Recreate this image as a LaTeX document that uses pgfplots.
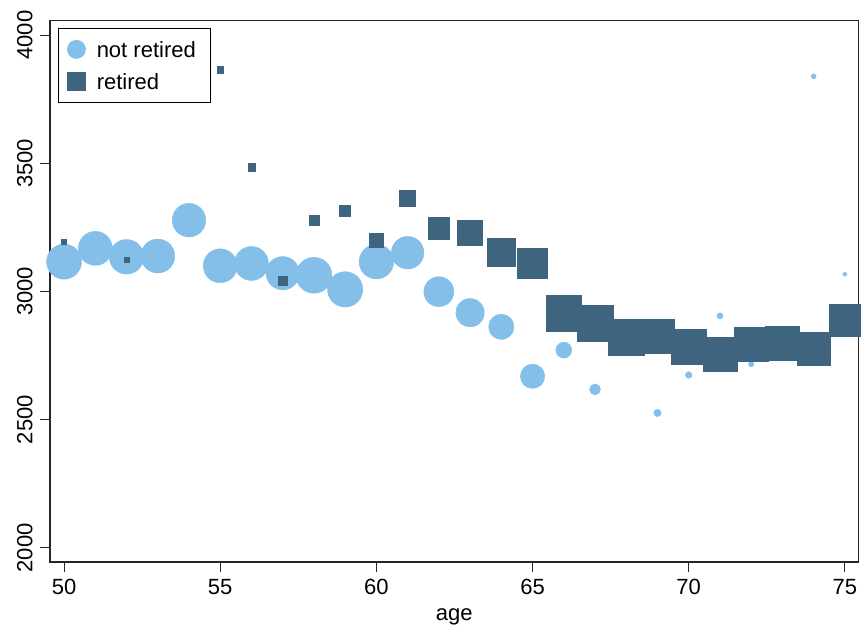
\documentclass[border=0pt]{standalone}
\usepackage{fontspec}
\setmainfont{Liberation Sans}
\usepackage{pgfplots}
\usepackage{pgfplotstable}
\pgfplotsset{compat=1.18}
\definecolor{nr}{HTML}{83BFE9}
\definecolor{ret}{HTML}{3E6480}
\pgfplotstableread{
x y r
50 3116 17.5
51 3168 17
52 3135 17.3
53 3138 17
54 3278 16.8
55 3100 17
56 3109 17
57 3071 16.7
58 3063 18
59 3008 17.7
60 3116 17.3
61 3151 16.3
62 2999 15
63 2917 14.2
64 2862 12.7
65 2669 12.2
66 2771 8
67 2618 5.5
69 2526 3.7
70 2674 3.3
71 2905 3.1
72 2716 2.7
74 3839 2.5
75 3067 2.0
}\notretired
\pgfplotstableread{
x y h
50 3194 2.5
52 3122 2.5
55 3865 3.2
56 3484 3.7
57 3041 4.5
58 3276 5
59 3314 5.5
60 3200 7
61 3364 8
62 3246 10.7
63 3230 12.5
64 3154 14.2
65 3111 15
66 2916 17.8
67 2876 18.3
68 2822 18
69 2826 17
70 2784 17.2
71 2757 17
72 2795 17
73 2799 17
74 2777 16.5
75 2889 16
}\retired
\begin{document}
\fontsize{22}{26}\selectfont
\begin{tikzpicture}[font=\fontsize{22}{26}\selectfont]
\begin{axis}[
  scale only axis,
  width=808pt, height=541pt,
  xmin=49.55, xmax=75.43, ymin=1945, ymax=4056,
  xtick={50,55,...,75}, ytick={2000,2500,...,4000},
  tick pos=left,
  tick align=outside, major tick length=10pt,
  axis line style={line width=1.5pt, black!85},
  every tick/.style={black!85, line width=1pt},
  tick label style={font=\fontsize{22}{26}\selectfont},
  label style={font=\fontsize{22}{26}\selectfont},
  yticklabel style={rotate=90, anchor=south},
  xlabel={age},
  xlabel style={yshift=1pt},
  /pgf/number format/assume math mode=true,
  /pgf/number format/1000 sep={},
  clip=false,
  legend cell align=left,
  legend style={at={(0.0103,0.986)}, anchor=north west, draw=black, line width=0.8pt,
    inner xsep=0pt, inner ysep=8.7pt,
    font=\fontsize{22}{26}\selectfont,
    nodes={inner sep=0pt, text height=20pt, text depth=4pt},
    row sep=8pt},
]
\addplot[scatter, only marks, mark=*,
  scatter/use mapped color={draw=nr, fill=nr},
  visualization depends on={\thisrow{r} \as \perpointmarksize},
  scatter/@pre marker code/.append style={/tikz/mark size=\perpointmarksize},
  legend image code/.code={\fill[nr] (17.7pt,0pt) circle (9pt);\path[draw=none] (0pt,0pt) rectangle (38pt,0pt);},
] table[x=x, y=y] {\notretired};
\addlegendentry{not retired\hspace*{15pt}}
\addplot[scatter, only marks, mark=square*,
  scatter/use mapped color={draw=ret, fill=ret},
  visualization depends on={\thisrow{h} \as \perpointmarksize},
  scatter/@pre marker code/.append style={/tikz/mark size=\perpointmarksize},
  legend image code/.code={\fill[ret] (8.7pt,-9pt) rectangle (26.7pt,9pt);\path[draw=none] (0pt,0pt) rectangle (38pt,0pt);},
] table[x=x, y=y] {\retired};
\addlegendentry{retired}
\end{axis}
\pgfresetboundingbox
\path ([xshift=-50pt,yshift=-63.3pt]current axis.south west) rectangle ([xshift=2.7pt,yshift=20.7pt]current axis.north east);
\end{tikzpicture}
\end{document}
